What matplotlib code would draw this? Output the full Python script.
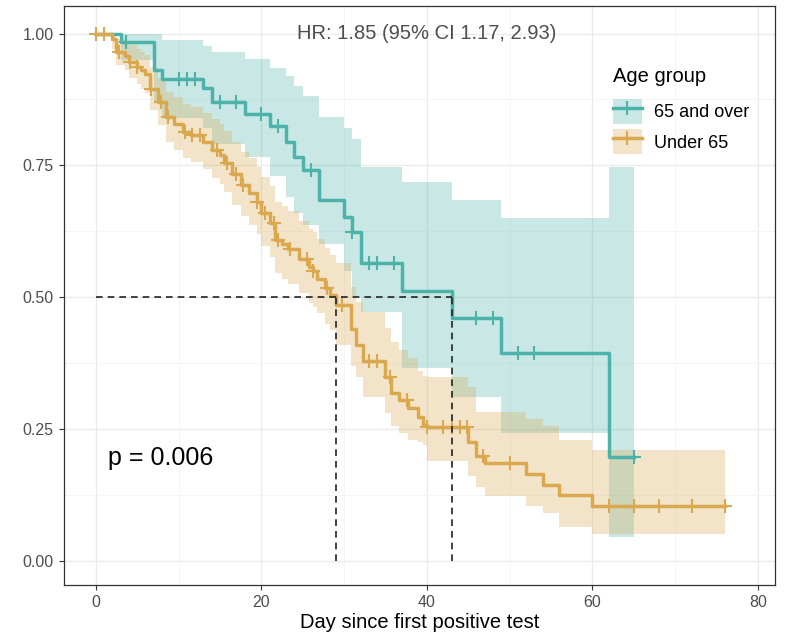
import numpy as np
import matplotlib
matplotlib.use("Agg")
import matplotlib.pyplot as plt
from matplotlib.patches import Patch
from matplotlib.lines import Line2D

plt.rcParams['font.family'] = ['Liberation Sans', 'DejaVu Sans']

# ---- 65 and over: step times, survival, 95% band ----
old_time = [0, 3, 7, 8, 13, 14, 18, 21, 23, 24, 25, 27, 30, 31, 32, 37, 43, 49, 62, 65]
old_surv = [1.0, 0.984, 0.93, 0.913, 0.896, 0.871, 0.847, 0.824, 0.794, 0.766,
            0.741, 0.684, 0.652, 0.624, 0.564, 0.511, 0.46, 0.394, 0.197, 0.197]
old_lower = [1.0, 0.95, 0.87, 0.84, 0.82, 0.79, 0.765, 0.73, 0.69, 0.66,
             0.636, 0.60, 0.55, 0.50, 0.472, 0.365, 0.311, 0.242, 0.045, 0.045]
old_upper = [1.0, 1.0, 1.0, 0.987, 0.977, 0.964, 0.951, 0.935, 0.919, 0.90,
             0.882, 0.841, 0.82, 0.80, 0.747, 0.718, 0.684, 0.65, 0.747, 0.747]
old_censor = [3.7, 10, 11, 12, 15, 17, 20, 22, 26, 31, 33, 34, 36, 46, 48, 51, 53, 65]

# ---- Under 65 ----
young_time = [0, 2, 2.5, 3.5, 4, 5, 5.5, 6, 6.5, 7.5, 8.5, 9.5, 10.5, 11.5, 13, 14,
              15, 15.5, 16.5, 17.5, 18.5, 19.5, 20, 21, 21.7, 22.5, 23.2, 24.6,
              25.8, 26.2, 26.7, 27.7, 28.3, 29, 30.9, 31.5, 32.3, 34.9, 35.7,
              36.7, 37.7, 38.9, 39.5, 40, 45, 46, 47, 52, 54, 56, 60, 76]
young_surv = [1.0, 0.99, 0.965, 0.958, 0.946, 0.937, 0.93, 0.924, 0.895, 0.87,
              0.842, 0.829, 0.813, 0.807, 0.795, 0.78, 0.77, 0.755, 0.733, 0.712,
              0.697, 0.68, 0.659, 0.64, 0.609, 0.60, 0.591, 0.572, 0.557, 0.55,
              0.535, 0.517, 0.504, 0.485, 0.44, 0.409, 0.378, 0.349, 0.318, 0.305,
              0.289, 0.273, 0.258, 0.254, 0.226, 0.198, 0.185, 0.165, 0.144,
              0.124, 0.103, 0.103]
young_lower = [1.0, 0.97, 0.94, 0.93, 0.915, 0.905, 0.895, 0.888, 0.855, 0.826,
               0.795, 0.78, 0.763, 0.756, 0.743, 0.726, 0.715, 0.70, 0.675, 0.653,
               0.637, 0.62, 0.597, 0.577, 0.545, 0.535, 0.525, 0.508, 0.489, 0.482,
               0.47, 0.45, 0.437, 0.41, 0.37, 0.349, 0.311, 0.28, 0.255, 0.242,
               0.23, 0.225, 0.22, 0.19, 0.16, 0.14, 0.122, 0.103, 0.09, 0.065,
               0.051, 0.051]
young_upper = [1.0, 1.0, 0.99, 0.985, 0.978, 0.97, 0.965, 0.96, 0.937, 0.915,
               0.89, 0.88, 0.866, 0.86, 0.85, 0.837, 0.828, 0.815, 0.795, 0.776,
               0.763, 0.747, 0.728, 0.71, 0.68, 0.672, 0.663, 0.645, 0.63, 0.623,
               0.61, 0.593, 0.58, 0.564, 0.52, 0.49, 0.472, 0.441, 0.415, 0.40,
               0.385, 0.36, 0.35, 0.349, 0.33, 0.283, 0.283, 0.268, 0.255, 0.23,
               0.211, 0.211]
young_censor = [0, 1, 2.8, 4.1, 5, 6.7, 7.9, 8.7, 10.8, 11.6, 12.6, 14.7, 15.9,
                17, 17.8, 19.5, 20.5, 21.5, 22, 23.5, 25.5, 26.2, 28, 29.7, 33,
                34, 35.6, 37.6, 40, 42, 43, 44, 44.8, 46.8, 50, 62, 65, 68, 72, 76]

median_days = [29, 43]
group_labels = ['65 and over', 'Under 65']
teal = '#4DB3AA'
gold = '#DAA84E'

fig = plt.figure(figsize=(7.89, 6.36), dpi=100)
ax = fig.add_axes([0.0805, 0.0805, 0.902, 0.9095])


def surv_at(times, surv, t):
    idx = np.searchsorted(times, t, side='right') - 1
    return np.asarray(surv)[idx]


groups = [(old_time, old_surv, old_lower, old_upper, old_censor, teal),
          (young_time, young_surv, young_lower, young_upper, young_censor, gold)]
for times, surv, lo, hi, cens, col in groups:
    ax.fill_between(times, lo, hi, step='post', color=col, alpha=0.3, lw=0, zorder=2)
for times, surv, lo, hi, cens, col in groups:
    ax.step(times, surv, where='post', color=col, lw=2.5, zorder=3)
    ax.plot(cens, surv_at(times, surv, cens), ls='none', marker='+', ms=10.5,
            mew=1.5, color=col, zorder=4)

# median survival lines
ax.plot([0, max(median_days)], [0.5, 0.5], ls=(0, (4, 3)), color='#222222', lw=1.2, zorder=5)
for d in median_days:
    ax.plot([d, d], [0, 0.5], ls=(0, (4, 3)), color='#222222', lw=1.2, zorder=5)

ax.text(40, 1.0, 'HR: 1.85 (95% CI 1.17, 2.93)', ha='center', va='center',
        fontsize=14.5, color='#4D4D4D')
ax.text(1.5, 0.195, 'p = 0.006', ha='left', va='center', fontsize=18, color='black')

ax.set_xlim(-3.9, 82.1)
ax.set_ylim(-0.0455, 1.0515)
ax.set_xticks([0, 20, 40, 60, 80])
ax.set_yticks([0, 0.25, 0.5, 0.75, 1.0])
ax.set_yticklabels(['0.00', '0.25', '0.50', '0.75', '1.00'])
ax.set_xticks([10, 30, 50, 70], minor=True)
ax.set_yticks([0.125, 0.375, 0.625, 0.875], minor=True)
ax.grid(True, which='major', color='#EBEBEB', lw=1.0, zorder=0)
ax.grid(True, which='minor', color='#F4F4F4', lw=0.6, zorder=0)
ax.set_axisbelow(True)
ax.tick_params(which='major', length=3.5, width=0.8, color='#333333',
               labelsize=11.5, labelcolor='#4D4D4D')
ax.tick_params(which='minor', length=0)
for s in ax.spines.values():
    s.set_color('#333333')
    s.set_linewidth(0.9)
ax.set_xlabel('Day since first positive test', fontsize=14.5, labelpad=2.5)

handles = [(Patch(facecolor=c, alpha=0.3, lw=0),
            Line2D([], [], color=c, lw=2.5, marker='+', ms=10.5, mew=1.5))
           for c in (teal, gold)]
leg = ax.legend(handles, group_labels, title='Age group', loc='upper left',
                bbox_to_anchor=(0.772, 0.895), frameon=False, fontsize=13,
                title_fontsize=14.5, handlelength=1.6, handleheight=1.75,
                labelspacing=0.32, borderaxespad=0, borderpad=0, handletextpad=0.7,
                alignment='left')
leg._legend_box.sep = 9

fig.savefig('out.png', dpi=100)
